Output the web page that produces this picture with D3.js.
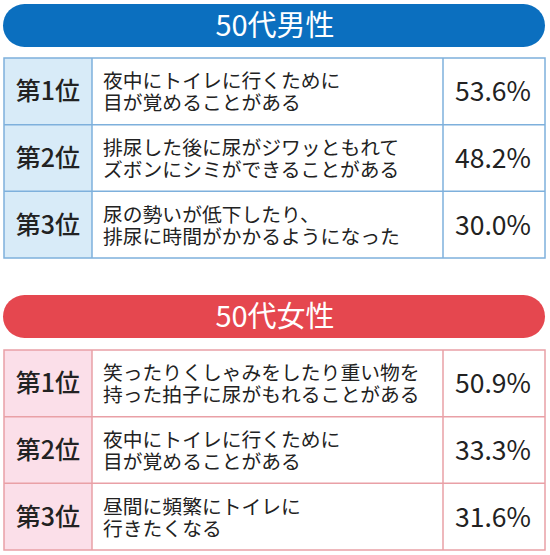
<!DOCTYPE html>
<html>
<head>
<meta charset="utf-8">
<script src="https://cdn.jsdelivr.net/npm/d3@7"></script>
<style>
	html, body { margin: 0; padding: 0; background: #fff; }
	svg { display: block; font-family: "Noto Sans CJK JP", "Noto Sans", sans-serif; }
</style>
</head>
<body>
<svg id="chart" width="550" height="555"></svg>
<script>
// Survey rankings, top 3 per group
const ranks = ['第1位', '第2位', '第3位'];
const maleTitle = '50代男性';
const maleItems = [
	'夜中にトイレに行くために\n目が覚めることがある',
	'排尿した後に尿がジワッともれて\nズボンにシミができることがある',
	'尿の勢いが低下したり、\n排尿に時間がかかるようになった',
];
const maleValues = [53.6, 48.2, 30.0];
const femaleTitle = '50代女性';
const femaleItems = [
	'笑ったりくしゃみをしたり重い物を\n持った拍子に尿がもれることがある',
	'夜中にトイレに行くために\n目が覚めることがある',
	'昼間に頻繁にトイレに\n行きたくなる',
];
const femaleValues = [50.9, 33.3, 31.6];

const svg = d3.select('svg#chart');
const fmt = d => d3.format('.1f')(d) + '%';

// Column edges
const x0 = 4, x1 = 92, x2 = 443, x3 = 545;

function drawBlock(opts) {
	const g = svg.append('g');
	// Header pill
	g.append('rect')
		.attr('x', 3).attr('y', opts.headTop)
		.attr('width', 542).attr('height', 43)
		.attr('rx', 21.5)
		.attr('fill', opts.headColor);
	g.append('text')
		.attr('x', 275).attr('y', opts.headTop + 32)
		.attr('text-anchor', 'middle')
		.attr('fill', '#fff')
		.attr('font-size', 29).attr('font-weight', 400)
		.text(opts.title);

	const y = d3.scaleBand()
		.domain(ranks)
		.range([opts.top, opts.top + 200]);

	const rows = g.selectAll('g.row')
		.data(ranks.map((r, i) => ({ rank: r, item: opts.items[i], value: opts.values[i] })))
		.enter().append('g').classed('row', true)
		.attr('transform', d => `translate(0,${y(d.rank)})`);

	rows.append('rect')
		.attr('x', x0).attr('width', x1 - x0)
		.attr('height', y.bandwidth())
		.attr('fill', opts.cellColor);
	rows.append('rect')
		.attr('x', x1).attr('width', x3 - x1)
		.attr('height', y.bandwidth())
		.attr('fill', '#fff');

	rows.append('text')
		.attr('x', (x0 + x1) / 2).attr('y', y.bandwidth() / 2 + 9)
		.attr('text-anchor', 'middle')
		.attr('fill', '#222')
		.attr('font-size', 25).attr('font-weight', 500)
		.text(d => d.rank);

	// two-line description, tight leading like the print layout
	rows.append('text')
		.attr('x', 103)
		.attr('fill', '#222')
		.attr('font-size', 19.8)
		.each(function (d) {
			const lines = d.item.split('\n');
			d3.select(this).selectAll('tspan')
				.data(lines).enter().append('tspan')
				.attr('x', 103)
				.attr('y', (l, i) => y.bandwidth() / 2 + 8 + (i - (lines.length - 1) / 2) * 22)
				.text(l => l);
		});

	rows.append('text')
		.attr('x', (x2 + x3) / 2 - 1).attr('y', y.bandwidth() / 2 + 10)
		.attr('text-anchor', 'middle')
		.attr('fill', '#222')
		.attr('font-size', 26.5)
		.text(d => fmt(d.value));

	// Grid lines
	const lines = g.append('g')
		.attr('stroke', opts.lineColor).attr('stroke-width', 1.5).attr('fill', 'none');
	lines.append('rect')
		.attr('x', x0).attr('y', opts.top)
		.attr('width', x3 - x0).attr('height', 200);
	ranks.slice(1).forEach(r => {
		lines.append('line').attr('x1', x0).attr('x2', x3)
			.attr('y1', y(r)).attr('y2', y(r));
	});
	[x1, x2].forEach(xv => {
		lines.append('line').attr('x1', xv).attr('x2', xv)
			.attr('y1', opts.top).attr('y2', opts.top + 200);
	});
}

drawBlock({
	title: maleTitle, items: maleItems, values: maleValues,
	headTop: 4, top: 58,
	headColor: '#0b6fbf', cellColor: '#d8ebf8', lineColor: '#7eb0dc',
});
drawBlock({
	title: femaleTitle, items: femaleItems, values: femaleValues,
	headTop: 295, top: 350,
	headColor: '#e5474f', cellColor: '#fbdfe9', lineColor: '#e9a0a6',
});
</script>
</body>
</html>
